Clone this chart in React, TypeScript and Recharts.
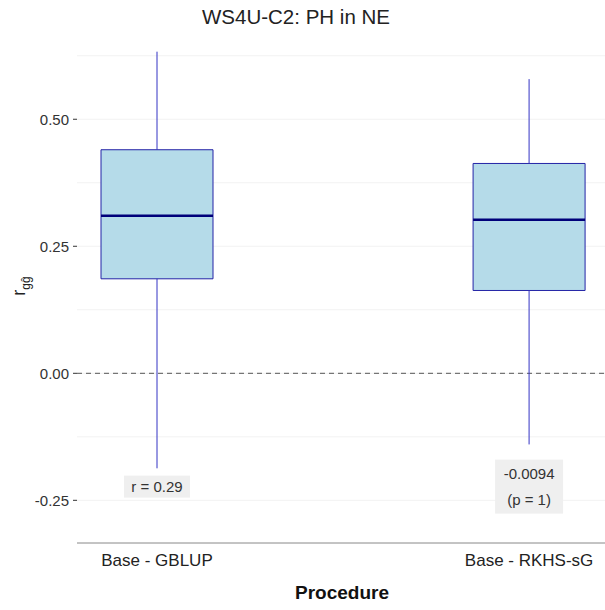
import React from 'react';
import {
  ComposedChart,
  XAxis,
  YAxis,
  CartesianGrid,
  ReferenceArea,
  ReferenceLine,
  Scatter,
} from 'recharts';

// box statistics
const procedures = ['Base - GBLUP', 'Base - RKHS-sG'];
const whiskerLow = [-0.187, -0.14];
const q1 = [0.186, 0.163];
const median = [0.31, 0.302];
const q3 = [0.44, 0.413];
const whiskerHigh = [0.633, 0.579];

// annotation boxes under each box
const annotations = [['r = 0.29'], ['-0.0094', '(p = 1)']];
const annotationY = [-0.223, -0.223];

const yTicks = [-0.25, 0, 0.25, 0.5];
const gridValues = [-0.25, -0.125, 0, 0.125, 0.25, 0.375, 0.5, 0.625];

const FONT = '"Liberation Sans", Arial, sans-serif';
const BOX_HALF = 0.1505;

const annotationData = procedures.map((_, i) => ({
  x: i + 1,
  y: annotationY[i],
  text: annotations[i],
}));

const YTick = (props: any) => {
  const { x, y, payload } = props;
  if (!yTicks.includes(payload.value)) return null;
  return (
    <g>
      <line x1={x - 4} x2={x} y1={y} y2={y} stroke="#333" />
      <text
        x={x - 8}
        y={y}
        dy="0.35em"
        textAnchor="end"
        fontSize={15}
        fill="#333"
        fontFamily={FONT}
      >
        {payload.value.toFixed(2)}
      </text>
    </g>
  );
};

const AnnotationShape = (props: any) => {
  const { cx, cy, payload } = props;
  const lines: string[] = payload.text;
  const h = lines.length === 1 ? 22 : lines.length * 26 + 2;
  const w = lines.length === 1 ? 66 : 68;
  return (
    <g>
      <rect x={cx - w / 2} y={cy - h / 2} width={w} height={h} fill="#efefef" />
      {lines.map((l, i) => (
        <text
          key={i}
          x={cx}
          y={cy - ((lines.length - 1) * 26) / 2 + i * 26}
          dy="0.35em"
          textAnchor="middle"
          fontSize={15}
          fill="#333"
          fontFamily={FONT}
        >
          {l}
        </text>
      ))}
    </g>
  );
};

export default function App() {
  return (
    <div style={{ position: 'absolute', left: 0, top: 0, width: 605, height: 610, background: '#fff', fontFamily: FONT }}>
      <div style={{ position: 'absolute', top: 5, left: 0, width: 592, textAlign: 'center', fontSize: 20.5, color: '#222' }}>
        WS4U-C2: PH in NE
      </div>
      <div
        style={{
          position: 'absolute',
          left: 21,
          top: 286,
          transform: 'translate(-50%, -50%) rotate(-90deg)',
          fontSize: 18,
          color: '#222',
          whiteSpace: 'nowrap',
          lineHeight: 1,
        }}
      >
        r<sub style={{ fontSize: 12 }}>gĝ</sub>
      </div>
      <div style={{ position: 'absolute', top: 582, left: 77, width: 530, textAlign: 'center', fontSize: 19, fontWeight: 'bold', color: '#111' }}>
        Procedure
      </div>
      <ComposedChart
        width={605}
        height={610}
        data={annotationData}
        margin={{ top: 40, right: 0, bottom: 37, left: 0 }}
      >
        <CartesianGrid horizontal vertical={false} stroke="#f2f2f2" horizontalValues={gridValues} />
        <XAxis
          type="number"
          dataKey="x"
          domain={[0.785, 2.204]}
          ticks={[1, 2]}
          allowDataOverflow
          tickFormatter={(v: number) => procedures[v - 1]}
          axisLine={{ stroke: '#888' }}
          tickLine={false}
          tickMargin={5}
          height={30}
          tick={{ fontSize: 17, fill: '#222', fontFamily: FONT }}
        />
        <YAxis
          type="number"
          dataKey="y"
          domain={[-0.334, 0.656]}
          allowDataOverflow
          ticks={gridValues}
          interval={0}
          tick={<YTick />}
          tickLine={false}
          tickSize={0}
          tickMargin={0}
          axisLine={false}
          width={77}
        />
        <ReferenceLine y={0} stroke="#555" strokeDasharray="5 4" />
        {procedures.map((p, i) => (
          <ReferenceArea
            key={'box' + p}
            x1={i + 1 - BOX_HALF}
            x2={i + 1 + BOX_HALF}
            y1={q1[i]}
            y2={q3[i]}
            fill="#b5dbe9"
            fillOpacity={1}
            stroke="#2323a6"
            strokeWidth={1}
          />
        ))}
        {procedures.map((p, i) => (
          <ReferenceLine
            key={'wl' + p}
            segment={[
              { x: i + 1, y: whiskerLow[i] },
              { x: i + 1, y: q1[i] },
            ]}
            stroke="#3333c4"
          />
        ))}
        {procedures.map((p, i) => (
          <ReferenceLine
            key={'wh' + p}
            segment={[
              { x: i + 1, y: q3[i] },
              { x: i + 1, y: whiskerHigh[i] },
            ]}
            stroke="#3333c4"
          />
        ))}
        {procedures.map((p, i) => (
          <ReferenceLine
            key={'med' + p}
            segment={[
              { x: i + 1 - BOX_HALF, y: median[i] },
              { x: i + 1 + BOX_HALF, y: median[i] },
            ]}
            stroke="#00007a"
            strokeWidth={2.5}
          />
        ))}
        <Scatter dataKey="y" shape={<AnnotationShape />} isAnimationActive={false} />
      </ComposedChart>
    </div>
  );
}
